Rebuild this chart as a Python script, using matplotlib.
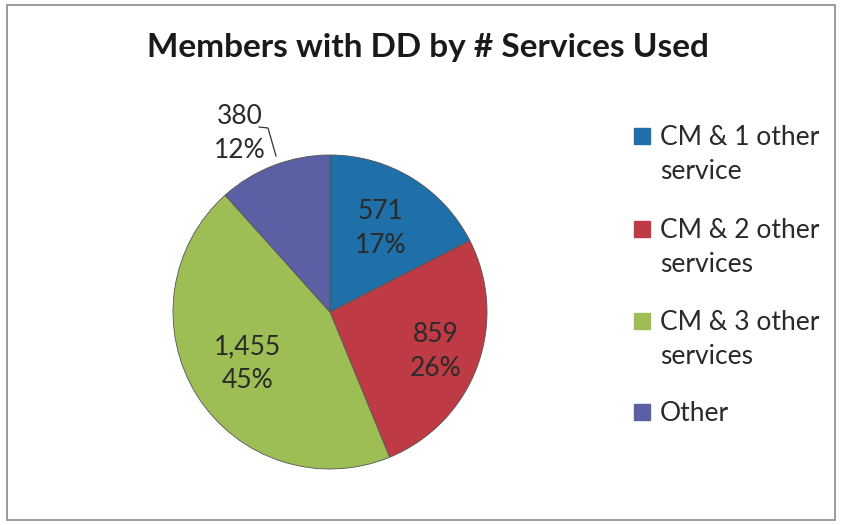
import numpy as np
import matplotlib.pyplot as plt
from matplotlib.patches import Rectangle

# data
categories = ["CM & 1 other\nservice", "CM & 2 other\nservices",
              "CM & 3 other\nservices", "Other"]
members = [571, 859, 1455, 380]
colors = ["#1F6FA8", "#BE3A45", "#9DBE55", "#5B5FA3"]

plt.rcParams['font.family'] = ['Lato', 'DejaVu Sans']

W, H = 843, 525
fig = plt.figure(figsize=(W / 100, H / 100), dpi=100)
ax = fig.add_axes([0, 0, 1, 1])

# outer frame
ax.add_patch(Rectangle((7, 5), 828, 515, fill=False, edgecolor="#8a8a8a", lw=1.2))

cx, cy, R = 330, H - 312, 157
wedges, _ = ax.pie(members, colors=colors, startangle=90, counterclock=False,
                   center=(cx, cy), radius=R, frame=True,
                   wedgeprops=dict(linewidth=0.6, edgecolor="#555555"))
ax.set_xlim(0, W)
ax.set_ylim(0, H)
ax.set_aspect('equal')
ax.axis('off')

fs = 19
ls = 1.45
total = sum(members)
label_r = [0.62, 0.72, 0.62]
for i, (w, v) in enumerate(zip(wedges, members)):
    txt = f"{v:,}\n{round(v / total * 100):.0f}%"
    if i < 3:
        ang = np.deg2rad((w.theta1 + w.theta2) / 2)
        x = cx + label_r[i] * R * np.cos(ang)
        y = cy + label_r[i] * R * np.sin(ang)
        ax.text(x, y, txt, ha='center', va='center', fontsize=fs,
                color="#2a2a2a", linespacing=ls)
    else:
        # outside label with leader line
        ax.text(240, H - 133, txt, ha='center', va='center', fontsize=fs,
                color="#2a2a2a", linespacing=ls)
        ax.plot([259, 268, 276], [H - 127, H - 128, H - 156], color="#333333", lw=0.9)

ax.text(428, H - 47, "Members with DD by # Services Used", ha='center', va='center',
        fontsize=24, fontweight='bold', color="#1a1a1a")

# legend
leg_y = [136, 229, 321, 412]
for lab, col, y in zip(categories, colors, leg_y):
    ax.add_patch(Rectangle((634, H - y - 8), 16, 16, color=col))
    ax.text(660, H - y + 11, lab, ha='left', va='top', fontsize=fs, color="#2a2a2a",
            linespacing=ls)

fig.savefig("out.png", dpi=100)
